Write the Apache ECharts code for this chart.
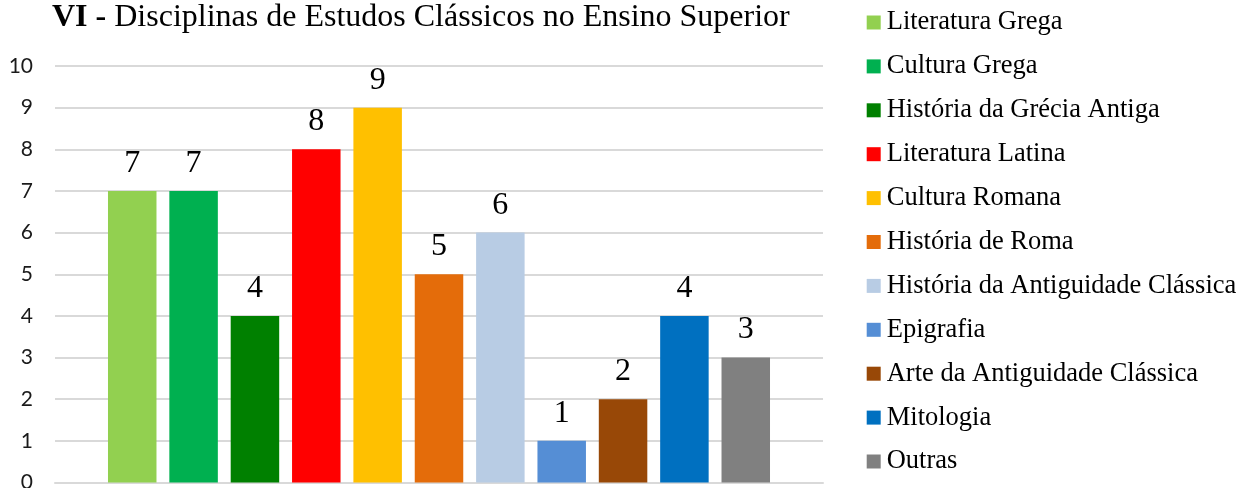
<!DOCTYPE html>
<html>
<head>
<meta charset="utf-8">
<script src="https://cdn.jsdelivr.net/npm/echarts@6/dist/echarts.min.js"></script>
<style>
  html, body { margin: 0; padding: 0; background: #fff; }
  #chart { width: 1240px; height: 488px; }
</style>
</head>
<body>
<div id="chart"></div>
<script>
// Disciplines (one bar each), their counts and bar colours
const disciplines = [
  'Literatura Grega',
  'Cultura Grega',
  'História da Grécia Antiga',
  'Literatura Latina',
  'Cultura Romana',
  'História de Roma',
  'História da Antiguidade Clássica',
  'Epigrafia',
  'Arte da Antiguidade Clássica',
  'Mitologia',
  'Outras'
];
const counts = [7, 7, 4, 8, 9, 5, 6, 1, 2, 4, 3];
const barColors = [
  '#92D050', '#00B050', '#008000', '#FF0000', '#FFC000', '#E46C0A',
  '#B8CCE4', '#558ED5', '#984807', '#0070C0', '#808080'
];
const yTicks = { min: 0, max: 10, step: 1 };

const serif = '"Liberation Serif", "Times New Roman", serif';

const chart = echarts.init(document.getElementById('chart'), null, { renderer: 'canvas' });

const series = disciplines.map((name, i) => ({
  name: name,
  type: 'bar',
  data: [counts[i]],
  barWidth: 48.5,
  barGap: '26.5%',
  itemStyle: { color: barColors[i] },
  label: {
    show: true,
    position: 'top',
    distance: 11.5,
    color: '#000',
    fontFamily: serif,
    fontSize: 32,
    lineHeight: 32
  },
  emphasis: { disabled: true }
}));

chart.setOption({
  animation: false,
  backgroundColor: '#ffffff',
  color: barColors,
  title: {
    left: 52,
    top: 2,
    padding: 0,
    text: '{b|VI - }{n|Disciplinas de Estudos Clássicos no Ensino Superior}',
    textStyle: {
      rich: {
        b: { fontFamily: serif, fontSize: 32, fontWeight: 'bold', color: '#000', lineHeight: 32 },
        n: { fontFamily: serif, fontSize: 32, fontWeight: 'normal', color: '#000', lineHeight: 32 }
      }
    }
  },
  legend: {
    orient: 'vertical',
    left: 866.7,
    top: 9,
    padding: 0,
    itemWidth: 14,
    itemHeight: 14,
    itemGap: 16.9,
    icon: 'rect',
    selectedMode: false,
    textStyle: {
      fontFamily: serif,
      fontSize: 26.5,
      lineHeight: 26,
      color: '#000',
      padding: [0, 0, 0, 1]
    },
    data: disciplines
  },
  grid: {
    left: 55,
    right: 417,
    top: 66,
    bottom: 5.5,
    containLabel: false,
    outerBoundsMode: 'none'
  },
  xAxis: {
    type: 'category',
    data: [''],
    axisLine: { show: true, lineStyle: { color: '#d9d9d9', width: 2 } },
    axisTick: { show: false },
    axisLabel: { show: false }
  },
  yAxis: {
    type: 'value',
    min: yTicks.min,
    max: yTicks.max,
    interval: yTicks.step,
    axisLine: { show: false },
    axisTick: { show: false },
    axisLabel: {
      margin: 22,
      color: '#1a1a1a',
      fontFamily: 'Lato, "Liberation Sans", sans-serif',
      fontSize: 21
    },
    splitLine: { lineStyle: { color: '#d9d9d9', width: 2 } }
  },
  series: series
});
</script>
</body>
</html>
